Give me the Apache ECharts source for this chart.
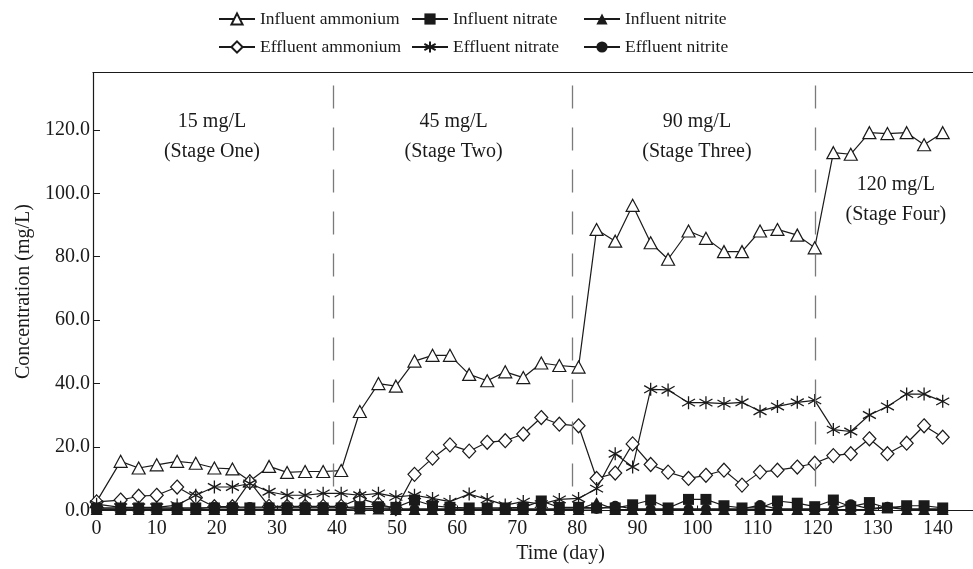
<!DOCTYPE html>
<html>
<head>
<meta charset="utf-8">
<script src="https://cdn.jsdelivr.net/npm/echarts@6/dist/echarts.min.js"></script>
<style>
html,body{margin:0;padding:0;background:#fff;}
#chart{width:973px;height:569px;}
</style>
</head>
<body>
<div id="chart"></div>
<script>
// sampling days
const days = [0, 4, 7, 10, 13.4, 16.5, 19.6, 22.6, 25.5, 28.7, 31.7, 34.7, 37.7, 40.7,
  43.8, 46.9, 49.8, 52.9, 55.9, 58.8, 62, 65, 68, 71, 74, 77, 80.2,
  83.2, 86.3, 89.2, 92.2, 95.1, 98.5, 101.4, 104.4, 107.4, 110.4, 113.3, 116.6, 119.5,
  122.6, 125.5, 128.6, 131.6, 134.8, 137.7, 140.8];

const influentAmmonium = [2.8, 15.5, 13.4, 14.4, 15.5, 14.9, 13.4, 13.1, 9.3, 13.9, 12.0, 12.3, 12.3, 12.6,
  31.2, 40.0, 39.2, 47.1, 48.9, 48.9, 42.9, 40.9, 43.7, 41.9, 46.5, 45.7, 45.2,
  88.6, 84.9, 96.2, 84.4, 79.2, 88.1, 85.8, 81.6, 81.6, 88.1, 88.6, 86.8, 82.8,
  112.8, 112.3, 119.1, 118.8, 119.1, 115.3, 119.1];

const effluentAmmonium = [2.7, 3.3, 4.5, 4.8, 7.4, 4.1, 1.2, 1.2, 9.0, 1.3, 1.3, 1.3, 1.3, 1.3,
  3.8, 2.0, 0.6, 11.4, 16.5, 20.7, 18.7, 21.5, 22.0, 24.1, 29.3, 27.2, 26.7,
  10.1, 11.8, 21.0, 14.5, 12.1, 10.1, 11.1, 12.7, 8.0, 12.1, 12.7, 13.7, 14.9,
  17.3, 17.9, 22.6, 17.9, 21.2, 26.7, 23.1];

const effluentNitrate = [2.0, 1.0, 1.0, 1.0, 1.7, 4.8, 7.4, 7.4, 8.5, 5.9, 4.8, 4.8, 5.4, 5.4,
  4.8, 5.4, 4.3, 4.8, 3.8, 2.8, 5.2, 3.5, 1.7, 2.8, 2.0, 3.5, 3.8,
  6.9, 17.9, 13.7, 38.2, 38.0, 34.0, 34.0, 33.7, 34.1, 31.3, 32.8, 34.1, 34.7,
  25.5, 24.9, 30.1, 32.8, 36.7, 36.7, 34.4];

const influentNitrate = [0.8, 0.8, 0.8, 0.8, 0.8, 0.8, 0.8, 0.8, 0.8, 0.8, 0.8, 0.8, 0.8, 0.8,
  1.2, 1.2, 1.0, 3.3, 1.5, 1.0, 0.8, 0.8, 0.8, 1.0, 3.0, 1.0, 1.0,
  0.8, 0.8, 1.8, 3.3, 0.8, 3.5, 3.5, 1.5, 0.8, 0.8, 3.0, 2.3, 1.2,
  3.3, 1.2, 2.5, 0.8, 1.5, 1.5, 0.8];

const influentNitrite = [0.3, 0.3, 0.3, 0.3, 0.3, 0.3, 0.3, 0.3, 0.3, 0.3, 0.3, 0.3, 0.3, 0.3,
  0.5, 0.5, 0.3, 0.3, 0.3, 0.3, 0.3, 0.3, 0.3, 0.3, 0.3, 0.3, 0.3,
  2.5, 0.3, 0.3, 0.3, 0.3, 0.3, 0.3, 0.3, 0.3, 0.3, 0.3, 0.3, 0.3,
  0.3, 0.3, 0.3, 1.0, 0.3, 0.3, 0.3];

const effluentNitrite = [0.5, 0.5, 0.5, 0.5, 0.5, 0.5, 1.1, 1.1, 1.1, 1.1, 1.1, 1.1, 1.1, 1.1,
  0.5, 0.5, 0.5, 0.5, 0.5, 0.5, 0.5, 0.5, 0.5, 0.5, 0.5, 0.5, 0.5,
  0.5, 1.5, 0.5, 0.5, 0.5, 0.5, 0.5, 0.5, 0.5, 1.7, 0.5, 0.5, 0.5,
  0.5, 2.0, 0.5, 1.2, 0.5, 0.5, 0.5];

const xTicks = [0, 10, 20, 30, 40, 50, 60, 70, 80, 90, 100, 110, 120, 130, 140];
const yTicks = [0, 20, 40, 60, 80, 100, 120];

const stageBounds = [39.4, 79.2, 119.6];
const stageLabels = [
  [19.2, 117.8, '15 mg/L\n(Stage One)'],
  [59.4, 117.8, '45 mg/L\n(Stage Two)'],
  [99.9, 117.8, '90 mg/L\n(Stage Three)'],
  [133.0, 98.0, '120 mg/L\n(Stage Four)']
];

const FONT = 'Liberation Serif';
const INK = '#1a1a1a';

function pairs(arr) { return days.map((d, i) => [d, arr[i]]); }

const lineBase = {
  type: 'line',
  lineStyle: { color: INK, width: 1.2 },
  emphasis: { disabled: true },
  z: 3
};

const chart = echarts.init(document.getElementById('chart'), null, { renderer: 'canvas' });

const legendCommon = {
  orient: 'vertical', top: 5, itemWidth: 36, itemHeight: 14, itemGap: 10,
  textStyle: { fontFamily: FONT, fontSize: 17.5, color: INK }
};

chart.setOption({
  animation: false,
  backgroundColor: '#fff',
  grid: { left: 93, right: -25, top: 72.7, bottom: 58.5, containLabel: false, outerBoundsMode: 'none' },
  legend: [
    Object.assign({}, legendCommon, { left: 213, data: ['Influent ammonium', 'Effluent ammonium'] }),
    Object.assign({}, legendCommon, { left: 406, data: ['Influent nitrate', 'Effluent nitrate'] }),
    Object.assign({}, legendCommon, { left: 578, data: ['Influent nitrite', 'Effluent nitrite'] })
  ],
  xAxis: [
    {
      type: 'value', min: -0.6, max: 150,
      name: 'Time (day)', nameLocation: 'middle', nameGap: 26,
      nameTextStyle: { fontFamily: FONT, fontSize: 20, color: INK, padding: [0, 0, 0, 30] },
      axisLine: { onZero: false, lineStyle: { color: INK, width: 1.2 } },
      axisTick: { show: true, inside: true, length: 5, customValues: xTicks, lineStyle: { color: INK } },
      axisLabel: { customValues: xTicks, fontFamily: FONT, fontSize: 20, color: INK, margin: 8 },
      splitLine: { show: false }
    },
    {
      type: 'value', position: 'top', min: -0.6, max: 150,
      axisLine: { show: true, onZero: false, lineStyle: { color: INK, width: 1.2 } },
      axisTick: { show: false }, axisLabel: { show: false }, splitLine: { show: false }
    }
  ],
  yAxis: {
    type: 'value', min: 0, max: 138,
    name: 'Concentration (mg/L)', nameLocation: 'middle', nameGap: 56,
    nameTextStyle: { fontFamily: FONT, fontSize: 20, color: INK },
    axisLine: { show: true, onZero: false, lineStyle: { color: INK, width: 1.2 } },
    axisTick: { show: true, inside: true, length: 7, customValues: yTicks, lineStyle: { color: INK } },
    axisLabel: { customValues: yTicks, fontFamily: FONT, fontSize: 20, color: INK, margin: 3,
      formatter: v => v.toFixed(1) },
    splitLine: { show: false }
  },
  series: [
    Object.assign({}, lineBase, {
      name: 'Influent ammonium', data: pairs(influentAmmonium),
      symbol: 'triangle', symbolSize: [13, 12],
      itemStyle: { color: '#fff', borderColor: INK, borderWidth: 1.2 },
      markLine: {
        silent: true, symbol: ['none', 'none'], label: { show: false },
        lineStyle: { color: '#7a7a7a', width: 1.3, type: [23, 19] },
        data: stageBounds.map(b => [{ coord: [b, 134] }, { coord: [b, 7.5] }])
      }
    }),
    Object.assign({}, lineBase, {
      name: 'Effluent ammonium', data: pairs(effluentAmmonium),
      symbol: 'diamond', symbolSize: [13, 14],
      itemStyle: { color: '#fff', borderColor: INK, borderWidth: 1.2 }
    }),
    Object.assign({}, lineBase, {
      name: 'Effluent nitrate', data: pairs(effluentNitrate),
      symbol: 'path://M5 0L5 10M0.9 2.2L9.1 7.8M0.9 7.8L9.1 2.2', symbolSize: 13,
      itemStyle: { color: INK, borderColor: INK, borderWidth: 1.3 }
    }),
    Object.assign({}, lineBase, {
      name: 'Influent nitrate', data: pairs(influentNitrate),
      symbol: 'rect', symbolSize: 11,
      itemStyle: { color: INK }
    }),
    Object.assign({}, lineBase, {
      name: 'Influent nitrite', data: pairs(influentNitrite),
      symbol: 'triangle', symbolSize: [12, 11],
      itemStyle: { color: INK }
    }),
    Object.assign({}, lineBase, {
      name: 'Effluent nitrite', data: pairs(effluentNitrite),
      symbol: 'circle', symbolSize: 10,
      itemStyle: { color: INK }
    }),
    {
      type: 'scatter', name: 'stages', data: stageLabels, symbolSize: 1,
      itemStyle: { color: 'rgba(0,0,0,0)', opacity: 1 }, silent: true, z: 5,
      label: { show: true, position: 'inside', formatter: p => p.value[2], opacity: 1,
        fontFamily: FONT, fontSize: 20, lineHeight: 30, color: INK, align: 'center' }
    }
  ]
});
</script>
</body>
</html>
